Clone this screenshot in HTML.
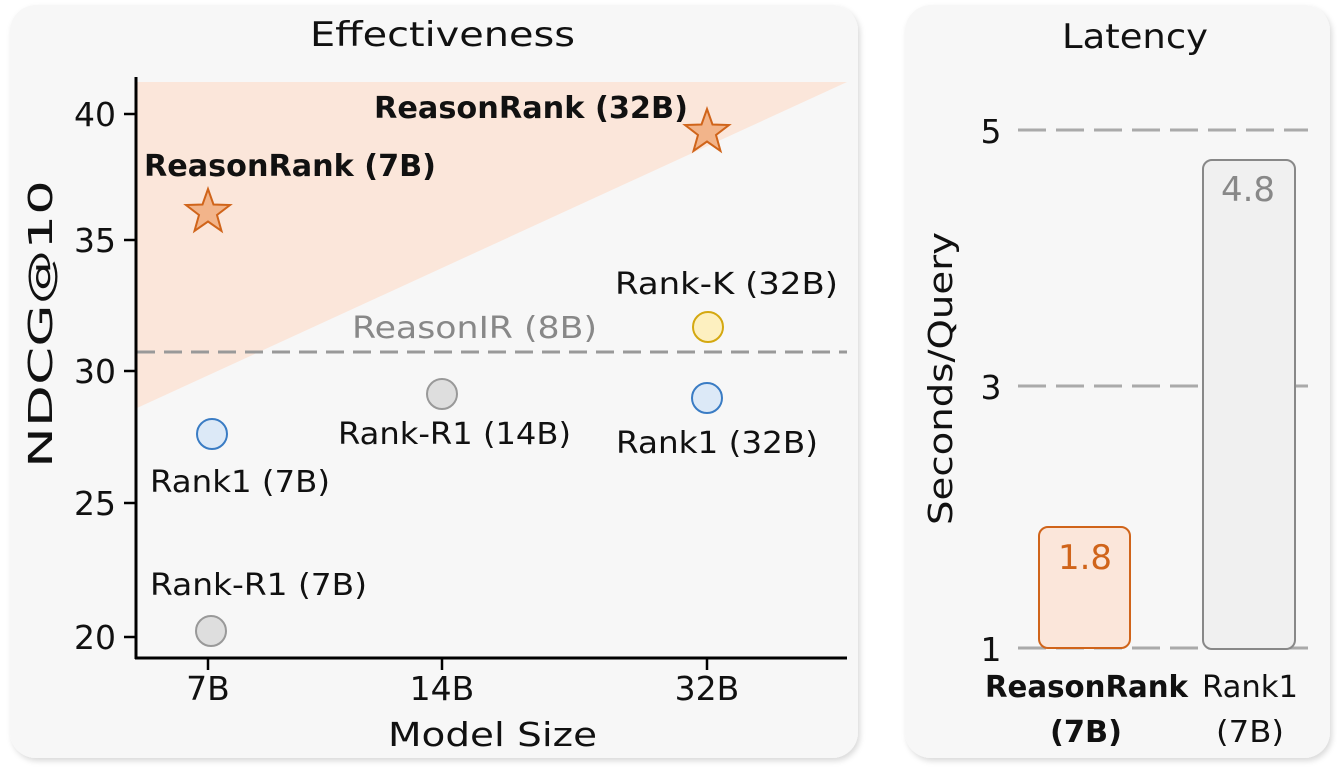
<!DOCTYPE html>
<html><head><meta charset="utf-8"><style>
body{margin:0;background:#fff;width:1337px;height:769px;overflow:hidden}
svg text{font-family:"DejaVu Sans","Liberation Sans",sans-serif}
</style></head><body>
<svg width="1337" height="769" viewBox="0 0 1337 769">
<defs><filter id="sh" x="-5%" y="-5%" width="110%" height="110%"><feDropShadow dx="2" dy="3" stdDeviation="3" flood-color="#000" flood-opacity="0.15"/></filter></defs>
<rect x="10" y="5" width="848" height="753" rx="26" fill="#f7f7f7" filter="url(#sh)"/>
<rect x="905" y="5" width="425" height="753" rx="26" fill="#f7f7f7" filter="url(#sh)"/>
<!-- left -->
<text x="310" y="46" font-size="34" textLength="265" lengthAdjust="spacingAndGlyphs" fill="#111">Effectiveness</text>
<polygon points="137,82 847,82 137,408" fill="#fbe6da"/>
<line x1="137" y1="352" x2="847" y2="352" stroke="#999" stroke-width="3" stroke-dasharray="18,9"/>
<line x1="136" y1="77" x2="136" y2="659" stroke="#000" stroke-width="3"/>
<line x1="135" y1="658" x2="847" y2="658" stroke="#000" stroke-width="3"/>
<g stroke="#000" stroke-width="2.5">
<line x1="124" y1="114" x2="136" y2="114"/><line x1="124" y1="240" x2="136" y2="240"/><line x1="124" y1="371" x2="136" y2="371"/><line x1="124" y1="503" x2="136" y2="503"/><line x1="124" y1="637" x2="136" y2="637"/>
<line x1="208" y1="658" x2="208" y2="670"/><line x1="442" y1="658" x2="442" y2="670"/><line x1="707" y1="658" x2="707" y2="670"/>
</g>
<g font-size="33" text-anchor="end" fill="#111">
<text x="116" y="126">40</text><text x="116" y="252">35</text><text x="116" y="383">30</text><text x="116" y="515">25</text><text x="116" y="649">20</text></g>
<g font-size="33" text-anchor="middle" fill="#111">
<text x="208" y="700">7B</text><text x="442" y="700">14B</text><text x="707" y="700">32B</text></g>
<text x="388" y="746" font-size="33" textLength="209" lengthAdjust="spacingAndGlyphs" fill="#111">Model Size</text>
<text transform="translate(52,468) rotate(-90)" font-size="33" textLength="288" lengthAdjust="spacingAndGlyphs" fill="#111">NDCG@10</text>
<g fill="#f2b48a" stroke="#d0641a" stroke-width="2">
<polygon points="208,189 213.5,204.5 230,205 217,215 221.5,231 208,221.5 194.5,231 199,215 186,205 202.5,204.5"/>
<polygon points="707,109 712.5,124.5 729,125 716,135 720.5,151 707,141.5 693.5,151 698,135 685,125 701.5,124.5"/>
</g>
<circle cx="212" cy="434" r="15" fill="#dce9f7" stroke="#3a7cc4" stroke-width="2"/>
<circle cx="707" cy="398" r="15" fill="#dce9f7" stroke="#3a7cc4" stroke-width="2"/>
<circle cx="442" cy="394" r="15" fill="#dedede" stroke="#999" stroke-width="2"/>
<circle cx="211" cy="631" r="15" fill="#dedede" stroke="#999" stroke-width="2"/>
<circle cx="708" cy="327" r="15" fill="#fdf0c0" stroke="#d4a810" stroke-width="2"/>
<g font-size="30" fill="#111" lengthAdjust="spacingAndGlyphs">
<text x="144" y="176" font-weight="bold" textLength="292" lengthAdjust="spacingAndGlyphs">ReasonRank (7B)</text>
<text x="374" y="118" font-weight="bold" textLength="314" lengthAdjust="spacingAndGlyphs">ReasonRank (32B)</text>
<text x="615" y="294" textLength="223" lengthAdjust="spacingAndGlyphs">Rank-K (32B)</text>
<text x="352" y="338" fill="#888" textLength="245" lengthAdjust="spacingAndGlyphs">ReasonIR (8B)</text>
<text x="338" y="444" textLength="233" lengthAdjust="spacingAndGlyphs">Rank-R1 (14B)</text>
<text x="616" y="453" textLength="202" lengthAdjust="spacingAndGlyphs">Rank1 (32B)</text>
<text x="150" y="492" textLength="180" lengthAdjust="spacingAndGlyphs">Rank1 (7B)</text>
<text x="150" y="595" textLength="217" lengthAdjust="spacingAndGlyphs">Rank-R1 (7B)</text>
</g>
<!-- right -->
<text x="1062" y="48" font-size="34" textLength="146" lengthAdjust="spacingAndGlyphs" fill="#111">Latency</text>
<g stroke="#aaa" stroke-width="3" stroke-dasharray="28,10">
<line x1="1018" y1="130" x2="1308" y2="130"/><line x1="1018" y1="386" x2="1308" y2="386"/><line x1="1018" y1="648" x2="1308" y2="648"/></g>
<g font-size="33" fill="#111" text-anchor="middle">
<text x="991" y="143">5</text><text x="991" y="399">3</text><text x="991" y="661">1</text></g>
<text transform="translate(952,525) rotate(-90)" font-size="33" textLength="293" lengthAdjust="spacingAndGlyphs" fill="#111">Seconds/Query</text>
<rect x="1039" y="527" width="91" height="121" rx="9" fill="#fbe6da" stroke="#d0641a" stroke-width="2"/>
<rect x="1203" y="160" width="92" height="489" rx="9" fill="#f0f0f0" stroke="#888" stroke-width="2"/>
<text x="1085" y="569" font-size="34" text-anchor="middle" fill="#d0641a">1.8</text>
<text x="1248" y="201" font-size="34" text-anchor="middle" fill="#888">4.8</text>
<g font-size="30" fill="#111">
<text x="985" y="697" font-weight="bold" textLength="203" lengthAdjust="spacingAndGlyphs">ReasonRank</text>
<text x="1050" y="742" font-weight="bold" textLength="72" lengthAdjust="spacingAndGlyphs">(7B)</text>
<text x="1202" y="697" textLength="96" lengthAdjust="spacingAndGlyphs">Rank1</text>
<text x="1216" y="742" textLength="68" lengthAdjust="spacingAndGlyphs">(7B)</text></g>
</svg>
</body></html>
